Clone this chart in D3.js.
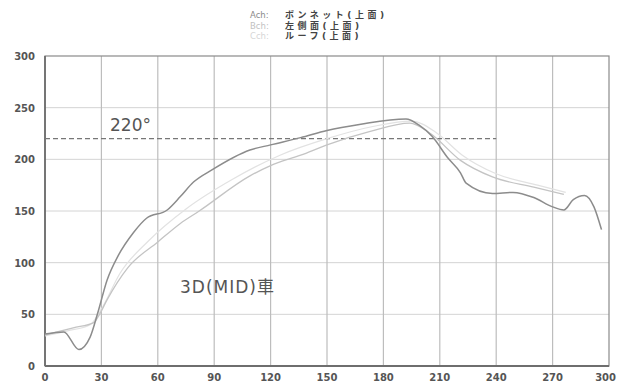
<!DOCTYPE html>
<html>
<head>
<meta charset="utf-8">
<script src="https://cdn.jsdelivr.net/npm/d3@7"></script>
<style>
  body { margin: 0; background: #fff; }
  svg { display: block; font-family: "DejaVu Sans", "Noto Sans CJK JP", sans-serif; }
</style>
</head>
<body>
<div id="chart"></div>
<script>
// data
const xTicks = [0, 30, 60, 90, 120, 150, 180, 210, 240, 270, 300];
const yTicks = [0, 50, 100, 150, 200, 250, 300];

const achT = [0, 10, 18, 24, 28, 33, 39, 47, 54, 65, 72, 79, 89, 109, 120, 136, 150, 168, 192, 199, 206, 214, 221, 224, 238, 249, 260, 270, 276, 281, 287, 292, 296];
const achV = [31, 33, 16, 28, 51, 83, 107, 129, 143, 151, 164, 178, 190, 209, 214, 221, 228, 234, 239, 233, 222, 202, 187, 177, 167, 168, 163, 154, 151, 161, 165, 154, 132];

const bchT = [0, 15, 26, 29, 33, 44, 60, 72, 82, 109, 120, 136, 150, 173, 194, 205, 221, 238, 260, 276];
const bchV = [30, 37, 42, 50, 64, 95, 120, 138, 150, 184, 194, 204, 214, 227, 235, 225, 199, 183, 173, 166];

const cchT = [0, 12, 24, 30, 40, 55, 75, 100, 125, 150, 175, 195, 208, 222, 240, 262, 277];
const cchV = [29, 34, 40, 55, 90, 121, 152, 181, 204, 220, 232, 237, 226, 204, 186, 175, 168];

const legendKeys = ["Ach:", "Bch:", "Cch:"];
const legendNames = ["ボンネット(上面)", "左側面(上面)", "ルーフ(上面)"];
const refLevel = 220;
const refEnd = 240;

const width = 617, height = 384;
const marginLeft = 45, marginRight = 8, marginTop = 56, marginBottom = 18;

const svg = d3.select("#chart").append("svg")
  .attr("width", width).attr("height", height);

const x = d3.scaleLinear().domain([0, 300]).range([marginLeft, width - marginRight]);
const y = d3.scaleLinear().domain([0, 300]).range([height - marginBottom, marginTop]);

// grid
svg.append("g").selectAll("line").data(yTicks.slice(1, -1)).join("line")
  .attr("x1", x(0)).attr("x2", x(300))
  .attr("y1", d => y(d)).attr("y2", d => y(d))
  .attr("stroke", "#d4d4d4").attr("stroke-width", 1);
svg.append("g").selectAll("line").data(xTicks.slice(1, -1)).join("line")
  .attr("x1", d => x(d)).attr("x2", d => x(d))
  .attr("y1", y(0)).attr("y2", y(300))
  .attr("stroke", "#bdbdbd").attr("stroke-width", 1.2);

// frame
svg.append("rect")
  .attr("x", x(0)).attr("y", y(300))
  .attr("width", x(300) - x(0)).attr("height", y(0) - y(300))
  .attr("fill", "none").attr("stroke", "#8a8a8a").attr("stroke-width", 1.2);
svg.append("line").attr("x1", x(0)).attr("x2", x(0)).attr("y1", y(300)).attr("y2", y(0))
  .attr("stroke", "#6e6e6e").attr("stroke-width", 1.8);
svg.append("line").attr("x1", x(0)).attr("x2", x(300)).attr("y1", y(0)).attr("y2", y(0))
  .attr("stroke", "#6e6e6e").attr("stroke-width", 1.8);

// tick labels
svg.append("g").selectAll("text").data(yTicks).join("text")
  .attr("x", 35).attr("y", d => y(d) + 4)
  .attr("text-anchor", "end")
  .attr("font-size", 10).attr("font-weight", "bold").attr("fill", "#555")
  .text(d => d);
svg.append("g").selectAll("text").data(xTicks).join("text")
  .attr("x", d => d === 300 ? width - 1 : x(d)).attr("y", 381)
  .attr("text-anchor", d => d === 300 ? "end" : "middle")
  .attr("font-size", 10).attr("font-weight", "bold").attr("fill", "#555")
  .text(d => d);

// reference line
svg.append("line")
  .attr("x1", x(0)).attr("x2", x(refEnd))
  .attr("y1", y(refLevel)).attr("y2", y(refLevel))
  .attr("stroke", "#777").attr("stroke-width", 1.2)
  .attr("stroke-dasharray", "5,3");

svg.append("text").attr("x", 110).attr("y", 131)
  .attr("font-size", 17).attr("fill", "#555").text("220°");
svg.append("text").attr("x", 180).attr("y", 293)
  .attr("font-size", 17).attr("fill", "#555").attr("letter-spacing", 1)
  .text("3D(MID)車");

// series
const line = d3.line().x(d => x(d[0])).y(d => y(d[1])).curve(d3.curveMonotoneX);
const series = [
  { t: cchT, v: cchV, color: "#e2e2e2", w: 1.2 },
  { t: bchT, v: bchV, color: "#c4c4c4", w: 1.3 },
  { t: achT, v: achV, color: "#8c8c8c", w: 1.5 }
];
series.forEach(s => {
  svg.append("path")
    .datum(s.t.map((t, i) => [t, s.v[i]]))
    .attr("d", line)
    .attr("fill", "none")
    .attr("stroke", s.color)
    .attr("stroke-width", s.w);
});

// legend
const keyColors = ["#8a8a8a", "#c2c2c2", "#d6d6d6"];
const lg = svg.append("g");
legendKeys.forEach((k, i) => {
  const yy = 18 + i * 10.5;
  lg.append("text").attr("x", 250).attr("y", yy)
    .attr("font-size", 8.5).attr("fill", keyColors[i]).text(k);
  lg.append("text").attr("x", 285).attr("y", yy)
    .attr("font-size", 9).attr("font-weight", "bold").attr("fill", "#444")
    .attr("letter-spacing", 3.5).text(legendNames[i]);
});
</script>
</body>
</html>
